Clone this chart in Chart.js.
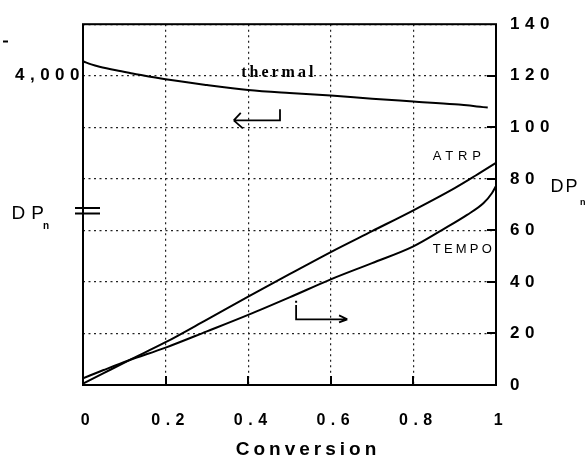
<!DOCTYPE html>
<html><head><meta charset="utf-8">
<script src="https://cdn.jsdelivr.net/npm/chart.js@4.4.1/dist/chart.umd.min.js"></script>
<style>html,body{margin:0;padding:0;background:#fff}#wrap{width:588px;height:460px}</style>
</head><body><div id="wrap"><canvas id="c" width="588" height="460"></canvas></div>
<script>
// ---- data ----
const conversionTicks = [0, 0.2, 0.4, 0.6, 0.8, 1];
const rightTicks = [0, 20, 40, 60, 80, 100, 120, 140];
const leftTicks = [4000];

const atrpConversion = [0, 0.05, 0.11, 0.2, 0.3, 0.4, 0.5, 0.6, 0.7, 0.8, 0.9, 0.95, 1.0];
const atrpDP = [0.5, 4.6, 9.5, 16.6, 25.4, 34.3, 43.0, 51.6, 59.7, 67.8, 76.4, 81.2, 86.2];

const tempoConversion = [0, 0.05, 0.11, 0.2, 0.3, 0.4, 0.5, 0.6, 0.7, 0.8, 0.87, 0.93, 0.97, 0.99, 1.0];
const tempoDP = [2.6, 5.8, 9.5, 14.5, 20.8, 27.2, 34.0, 41.0, 47.3, 53.8, 60.2, 66.0, 70.6, 74.4, 77.2];

const thermalConversion = [0, 0.02, 0.04, 0.08, 0.12, 0.2, 0.3, 0.4, 0.5, 0.6, 0.7, 0.8, 0.9, 0.98];
const thermalDP = [4028, 4022, 4017.5, 4010.5, 4004.5, 3993, 3982, 3972.5, 3966.5, 3961.5, 3955.5, 3950, 3944.5, 3938.5];

const toPts = (xs, ys) => xs.map((x, i) => ({x: x, y: ys[i]}));

const TICK_LS = '5.5px';

const decor = {
  id: 'decor',
  beforeLayout(chart) { chart.ctx.letterSpacing = TICK_LS; },
  beforeDraw(chart) {
    const c = chart.ctx;
    c.save(); c.fillStyle = '#fff'; c.fillRect(0, 0, chart.width, chart.height); c.restore();
    c.letterSpacing = TICK_LS;
  },
  afterDatasetsDraw(chart) {
    const c = chart.ctx, a = chart.chartArea;
    const xs = chart.scales.x, ys = chart.scales.y;
    const X = v => xs.getPixelForValue(v), Y = v => ys.getPixelForValue(v);
    c.save();
    c.letterSpacing = '0px';
    c.strokeStyle = '#000';
    c.fillStyle = '#000';
    c.lineCap = 'butt';
    // frame
    c.lineWidth = 2;
    c.strokeRect(a.left, a.top, a.right - a.left, a.bottom - a.top);
    // inner solid ticks
    c.beginPath();
    rightTicks.slice(1, -1).forEach(v => { const y = Math.round(Y(v)); c.moveTo(a.right - 9, y); c.lineTo(a.right, y); });
    conversionTicks.slice(1, -1).forEach(v => { const x = Math.round(X(v)); c.moveTo(x, a.bottom - 9); c.lineTo(x, a.bottom); });
    c.stroke();
    // left-pointing arrow (thermal -> left axis)
    c.lineWidth = 1.8;
    c.beginPath();
    c.moveTo(X(0.365), Y(102.7)); c.lineTo(X(0.477), Y(102.7)); c.lineTo(X(0.477), Y(107.0));
    c.moveTo(X(0.365), Y(102.7)); c.lineTo(X(0.382), Y(105.6));
    c.moveTo(X(0.365), Y(102.7)); c.lineTo(X(0.387), Y(99.6));
    c.stroke();
    // right-pointing arrow (ATRP/TEMPO -> right axis)
    c.beginPath();
    c.moveTo(X(0.516), Y(31.0)); c.lineTo(X(0.516), Y(25.5)); c.lineTo(X(0.64), Y(25.5));
    c.moveTo(X(0.64), Y(25.5)); c.lineTo(X(0.62), Y(27.0));
    c.moveTo(X(0.64), Y(25.5)); c.lineTo(X(0.62), Y(24.3));
    c.stroke();
    c.fillRect(X(0.516) - 1, Y(32.3) - 1, 2, 2);
    // in-plot labels
    c.textBaseline = 'middle'; c.textAlign = 'left';
    c.font = 'bold 16px "Liberation Serif"'; c.letterSpacing = '3px';
    c.fillText('thermal', X(0.383), Y(121.2));
    c.font = '13px "Liberation Sans"'; c.letterSpacing = '4.8px';
    c.fillText('ATRP', X(0.847), Y(88.6));
    c.letterSpacing = '3.2px';
    c.fillText('TEMPO', X(0.847), Y(52.8));
    // right axis title DP_n
    c.font = '18px "Liberation Sans"'; c.letterSpacing = '2px';
    c.fillText('DP', 550.5, 187);
    c.font = 'bold 9px "Liberation Sans"'; c.letterSpacing = '0px';
    c.fillText('n', 580, 202.5);
    // left axis title DP_n with break mark
    c.font = '19px "Liberation Sans"'; c.letterSpacing = '6px';
    c.fillText('DP', 11.5, 213.5);
    c.font = 'bold 10px "Liberation Sans"'; c.letterSpacing = '0px';
    c.fillText('n', 43, 226);
    c.lineWidth = 2;
    c.beginPath();
    c.moveTo(75, 208); c.lineTo(100, 208);
    c.moveTo(75, 213.5); c.lineTo(100, 213.5);
    c.stroke();
    // stray mark top-left
    c.beginPath(); c.moveTo(3, 41.5); c.lineTo(8, 41.5); c.stroke();
    // x-axis title
    c.font = 'bold 19px "Liberation Sans"'; c.letterSpacing = '4px'; c.textAlign = 'center';
    c.fillText('Conversion', 308, 450);
    c.restore();
    c.letterSpacing = TICK_LS;
  }
};

const tickFont = size => ({family: '"Liberation Sans", Arial, sans-serif', size: size, weight: 'bold'});

new Chart(document.getElementById('c'), {
  type: 'line',
  data: {
    datasets: [
      {label: 'thermal', data: toPts(thermalConversion, thermalDP), yAxisID: 'yL'},
      {label: 'ATRP', data: toPts(atrpConversion, atrpDP), yAxisID: 'y'},
      {label: 'TEMPO', data: toPts(tempoConversion, tempoDP), yAxisID: 'y'}
    ]
  },
  options: {
    responsive: false,
    animation: false,
    devicePixelRatio: 1,
    layout: {padding: {top: 23, left: 0, right: 0, bottom: 0}},
    elements: {
      line: {borderColor: '#000', borderWidth: 2, cubicInterpolationMode: 'monotone', fill: false},
      point: {radius: 0, hoverRadius: 0}
    },
    plugins: {legend: {display: false}, tooltip: {enabled: false}},
    scales: {
      x: {
        type: 'linear', position: 'bottom', min: 0, max: 1,
        afterBuildTicks: s => { s.ticks = conversionTicks.map(v => ({value: v})); },
        afterFit: s => { s.height = 75; },
        ticks: {
          callback: v => String(+Number(v).toFixed(1)),
          font: tickFont(16), color: '#000', padding: 26, labelOffset: 5,
          maxRotation: 0, autoSkip: false
        },
        grid: {color: '#222', lineWidth: 1.2, drawTicks: false},
        border: {display: false, dash: [2, 3.5]}
      },
      y: {
        type: 'linear', position: 'right', min: 0, max: 140,
        afterBuildTicks: s => { s.ticks = rightTicks.map(v => ({value: v})); },
        afterFit: s => { s.width = 92; },
        ticks: {font: tickFont(17), color: '#000', padding: 14, autoSkip: false},
        grid: {color: '#222', lineWidth: 1.2, drawTicks: false},
        border: {display: false, dash: [2, 3.5]}
      },
      yL: {
        type: 'linear', position: 'left', min: 3400, max: 4100,
        afterBuildTicks: s => { s.ticks = leftTicks.map(v => ({value: v})); },
        afterFit: s => { s.width = 83; },
        ticks: {
          callback: v => Number(v).toLocaleString('en-US'),
          font: tickFont(17), color: '#000', padding: -2, autoSkip: false
        },
        grid: {display: false, drawTicks: false},
        border: {display: false}
      }
    }
  },
  plugins: [decor]
});
</script>
</body></html>
